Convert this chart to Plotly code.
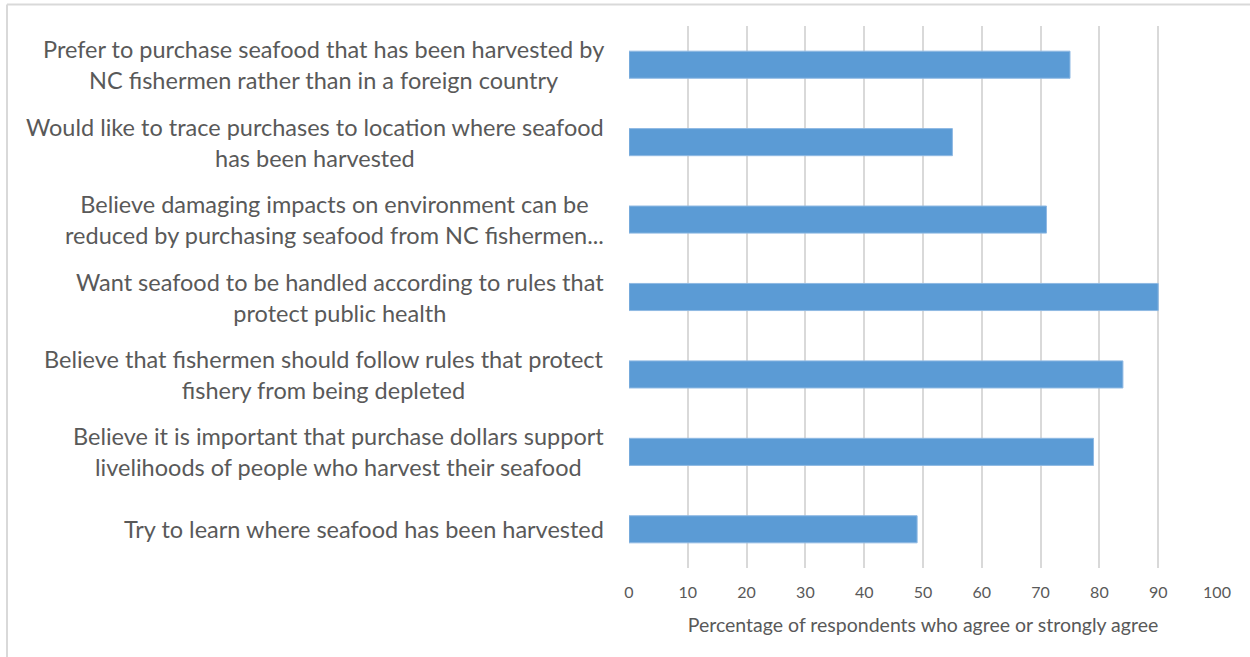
import plotly.graph_objects as go

# Survey statements (top to bottom) and share of respondents agreeing
statements = [
    "Prefer to purchase seafood that has been harvested by<br>NC fishermen rather than in a foreign country",
    "Would like to trace purchases to location where seafood<br>has been harvested",
    "Believe damaging impacts on environment can be<br>reduced by purchasing seafood from NC fishermen...",
    "Want seafood to be handled according to rules that<br>protect public health",
    "Believe that fishermen should follow rules that protect<br>fishery from being depleted",
    "Believe it is important that purchase dollars support<br>livelihoods of people who harvest their seafood",
    "Try to learn where seafood has been harvested",
]
agree_pct = [75, 55, 71, 90, 84, 79, 49]
x_ticks = [0, 10, 20, 30, 40, 50, 60, 70, 80, 90, 100]

FONT = "Lato, 'Open Sans', sans-serif"
GRAY = "#595959"
GRID = "#d9d9d9"

W, H = 1250, 657
L, R, T, B = 629, 33, 26, 89
pw, ph = W - L - R, H - T - B

fig = go.Figure(
    go.Bar(
        x=agree_pct,
        y=list(range(len(statements))),
        orientation="h",
        width=0.35,
        marker=dict(color="#5b9bd5", line=dict(color="#8fb9e3", width=1)),
        hoverinfo="x",
    )
)

# Category labels, centred line-by-line and right-aligned to the axis
annotations = [
    dict(
        text=s, x=0, y=i, xref="paper", yref="y",
        xanchor="right", yanchor="middle", align="center",
        xshift=-23, showarrow=False,
        font=dict(family=FONT, size=23.5, color=GRAY),
    )
    for i, s in enumerate(statements)
]

# Chart-area border (top and left edges)
def px_x(px):
    return (px - L) / pw

def px_y(py):
    return (H - B - py) / ph

shapes = [
    dict(type="line", xref="paper", yref="paper",
         x0=px_x(7), x1=px_x(1260), y0=px_y(4.5), y1=px_y(4.5),
         line=dict(color=GRID, width=2)),
    dict(type="line", xref="paper", yref="paper",
         x0=px_x(7), x1=px_x(7), y0=px_y(4.5), y1=px_y(670),
         line=dict(color=GRID, width=2)),
]

fig.update_layout(
    width=W, height=H,
    margin=dict(l=L, r=R, t=T, b=B, pad=0),
    paper_bgcolor="white", plot_bgcolor="white",
    showlegend=False,
    bargap=0.65,
    annotations=annotations,
    shapes=shapes,
    xaxis=dict(
        range=[0, 100], tickvals=x_ticks, ticktext=[str(v) for v in x_ticks],
        showgrid=True, gridcolor=GRID, gridwidth=1.5,
        zeroline=False, showline=False, ticks="",
        ticklabelstandoff=13,
        tickfont=dict(family=FONT, size=16, color=GRAY),
        title=dict(text="Percentage of respondents who agree or strongly agree",
                   font=dict(family=FONT, size=19.5, color=GRAY), standoff=18),
        fixedrange=True,
    ),
    yaxis=dict(
        range=[len(statements) - 0.5, -0.5],
        showticklabels=False, showgrid=False, zeroline=False,
        showline=False, ticks="", fixedrange=True,
    ),
)

fig.write_html("out.html")
